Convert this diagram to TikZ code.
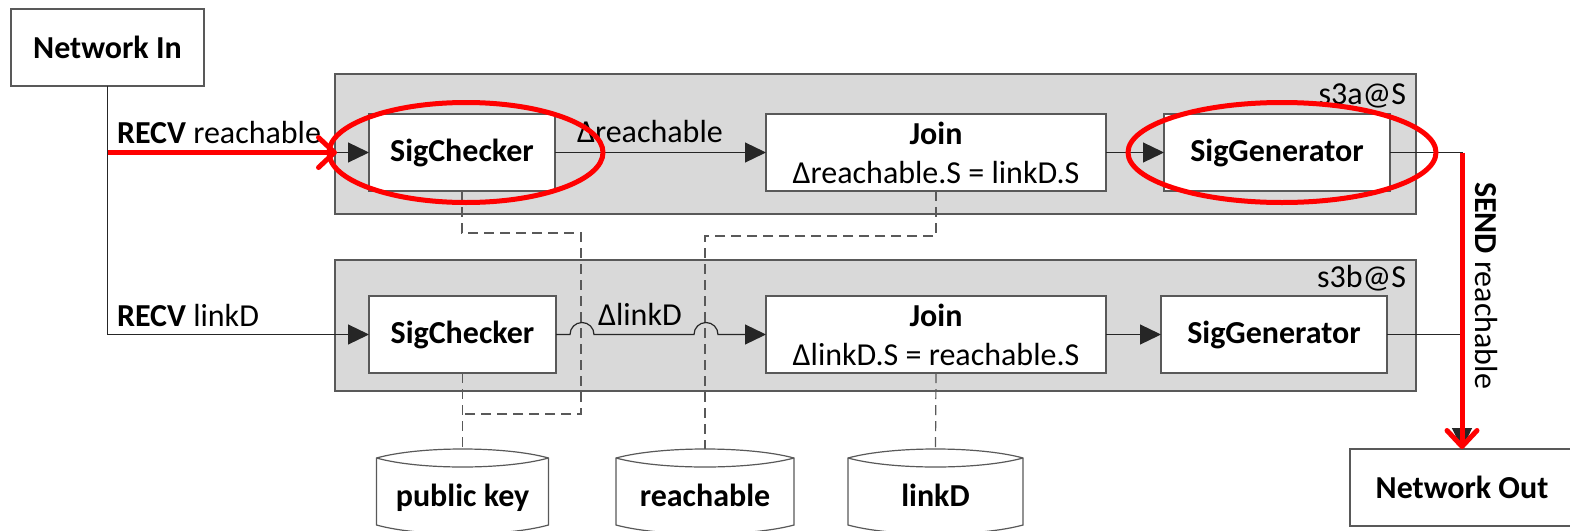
\documentclass[tikz,border=0pt]{standalone}
\usepackage{fontspec}
\setmainfont{Carlito}
\usetikzlibrary{arrows.meta}
\definecolor{grp}{HTML}{D9D9D9}
\definecolor{lc}{HTML}{595959}
\newcommand{\dbcyl}[4]{%
  \begin{scope}[shift={(#2,0)}]
    \draw[cyl] (-#3,458) .. controls (-#3/2,446) and (#3/2,446) .. (#3,458) -- (#3,525) .. controls (#3/2,537) and (-#3/2,537) .. (-#3,525) -- cycle;
    \draw[cyl] (-#3,458) .. controls (-#3/2,470) and (#3/2,470) .. (#3,458);
  \end{scope}
  \node[anchor=base] (#1) at (#2,506) {\textbf{#4}};
  \coordinate (#1-top) at (#2,448.5);
}
\begin{document}
\begin{tikzpicture}[x=1pt,y=-1pt,
  every node/.style={font=\fontsize{32}{39}\selectfont, inner sep=0pt, outer sep=0pt},
  box/.style={draw=lc, fill=white, line width=1.2pt, minimum height=77pt, align=center},
  grpbox/.style={draw=lc, fill=grp, line width=1.2pt, anchor=north west},
  conn/.style={draw=black!85, line width=1.2pt},
  arr/.style={conn, -{Triangle[length=21pt,width=20pt]}},
  dsh/.style={draw=lc, line width=1.2pt, dash pattern=on 10pt off 6pt},
  hl/.style={draw=red, line width=5pt},
  redarr/.style={draw=red, line width=5pt, -{Straight Barb[length=16pt,width=30pt,line width=5pt,round]}},
  lbl/.style={anchor=base west},
  cyl/.style={draw=lc, fill=white, line width=1.2pt}
]
\clip (0,0) rectangle (1570,530);

% groups
\node[grpbox, minimum width=1081pt, minimum height=140pt] (ga) at (335,74) {};
\node[grpbox, minimum width=1081pt, minimum height=131pt] (gb) at (335,260) {};
\node[anchor=base east] (gal) at (1406,104) {s3a@S};
\node[anchor=base east] (gbl) at (1406,287) {s3b@S};

% boxes
\node[box, minimum width=193pt] (nin) at (107.5,47.5) {\textbf{Network In}};
\node[box, minimum width=186pt] (sca) at (462,152.5) {\textbf{SigChecker}};
\node[box, minimum width=340pt] (ja) at (936,152.5) {\textbf{Join}\\Δreachable.S = linkD.S};
\node[box, minimum width=226pt] (sga) at (1277,152.5) {\textbf{SigGenerator}};
\node[box, minimum width=187pt] (scb) at (462.5,334.5) {\textbf{SigChecker}};
\node[box, minimum width=340pt] (jb) at (936,334.5) {\textbf{Join}\\ΔlinkD.S = reachable.S};
\node[box, minimum width=226pt] (sgb) at (1274,334.5) {\textbf{SigGenerator}};
\node[box, minimum width=224pt] (nout) at (1462,487.5) {\textbf{Network Out}};

% databases
\dbcyl{pk}{462.5}{86}{public key}
\dbcyl{rc}{705}{89}{reachable}
\dbcyl{lk}{935.5}{87.5}{linkD}

% dashed data links
\coordinate (d1) at (581,233);
\coordinate (d2) at (581,414);
\coordinate (d3) at (705,236);
\draw[dsh] (sca.south) |- (d1) -- (d2) -- (d2 -| scb.south);
\draw[dsh] (scb.south) -- (pk-top);
\draw[dsh] (ja.south) |- (d3) -- (rc-top);
\draw[dsh] (jb.south) -- (lk-top);

% connectors
\draw[arr] (nin.south) |- (scb.west);
\draw[arr] (nin.south |- sca.west) -- (sca.west);
\draw[arr] (sca.east) -- (ja.west);
\draw[arr] (ja.east) -- (sga.west);
\draw[arr] (sga.east) -| (nout.north);
\draw[conn] (sgb.east) -- (sgb.east -| nout.north);
\draw[arr] (scb.east) -- ++(14,0) arc[start angle=180,end angle=0,radius=12pt] -- ++(100,0) arc[start angle=180,end angle=0,radius=12pt] -- (jb.west);
\draw[arr] (sgb.west -| jb.east) -- (sgb.west);

% labels
\node[lbl] (l1) at (117,143) {\textbf{RECV} reachable};
\node[lbl] (l2) at (577,142) {Δreachable};
\node[lbl] (l3) at (117,326) {\textbf{RECV} linkD};
\node[lbl] (l4) at (598,325) {ΔlinkD};
\node[rotate=-90, anchor=base west] (l5) at (1475,182) {\textbf{SEND} reachable};

% red highlights
\coordinate (rend) at (337,152.5);
\draw[redarr] (nin.south |- sca.west) -- (rend);
\draw[redarr] (sga.east -| nout.north) -- (nout.north);
\draw[hl] ([xshift=4pt]sca.center) ellipse [x radius=137pt, y radius=50pt];
\draw[hl] ([xshift=5pt]sga.center) ellipse [x radius=154pt, y radius=50pt];
\end{tikzpicture}
\end{document}
